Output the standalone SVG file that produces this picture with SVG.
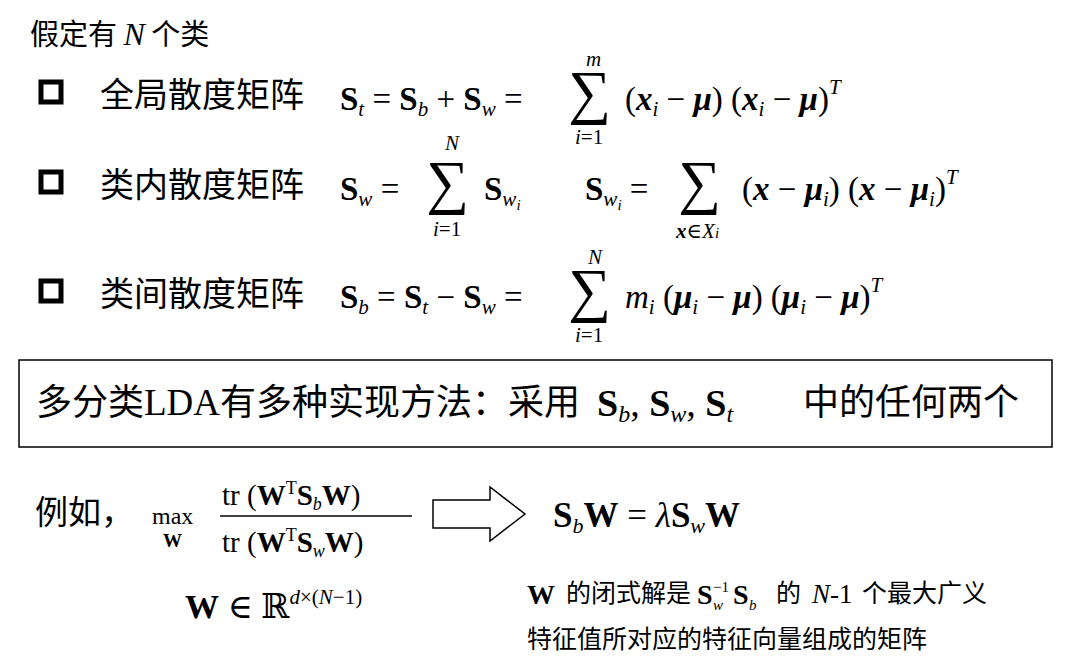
<svg xmlns="http://www.w3.org/2000/svg" width="1068" height="666" viewBox="0 0 1068 666">
<style>
.cn{font-family:"Noto Sans CJK SC",sans-serif;fill:#000}
.m{font-family:"Liberation Serif","DejaVu Serif",serif;fill:#000;font-size:33px}
.b{font-weight:bold}
.i{font-style:italic}
.s{font-size:21px}
.big{font-size:60px}
.box{fill:none;stroke:#000;stroke-width:5}
</style>
<rect width="1068" height="666" fill="#fff"/>
<text class="cn" x="30" y="45" font-size="29">假定有 <tspan class="i" font-family="Liberation Serif,serif" font-size="32">N</tspan> 个类</text>
<g id="row1">
<rect class="box" x="41" y="82" width="20" height="20"/>
<text class="cn" x="100" y="107" font-size="34">全局散度矩阵</text>
<text class="m" x="340" y="110"><tspan class="b">S</tspan><tspan class="i s" dy="6">t</tspan><tspan dy="-6"> = </tspan><tspan class="b">S</tspan><tspan class="i s" dy="6">b</tspan><tspan dy="-6"> + </tspan><tspan class="b">S</tspan><tspan class="i s" dy="6">w</tspan><tspan dy="-6">  = </tspan></text>
<text class="m big" x="568" y="112">∑</text>
<text class="m i s" x="586" y="66">m</text>
<text class="m s" x="575" y="144"><tspan class="i">i</tspan>=1</text>
<text class="m" x="625" y="110">(<tspan class="b i">x</tspan><tspan class="i s" dy="6">i</tspan><tspan dy="-6"> − </tspan><tspan class="b i">μ</tspan>) (<tspan class="b i">x</tspan><tspan class="i s" dy="6">i</tspan><tspan dy="-6"> − </tspan><tspan class="b i">μ</tspan>)<tspan class="i s" dy="-16">T</tspan></text>
</g>
<g id="row2">
<rect class="box" x="41" y="172" width="20" height="20"/>
<text class="cn" x="100" y="197" font-size="34">类内散度矩阵</text>
<text class="m" x="340" y="200"><tspan class="b">S</tspan><tspan class="i s" dy="6">w</tspan><tspan dy="-6"> = </tspan></text>
<text class="m big" x="426" y="202">∑</text>
<text class="m i s" x="445" y="150">N</text>
<text class="m s" x="433" y="236"><tspan class="i">i</tspan>=1</text>
<text class="m" x="484" y="200"><tspan class="b">S</tspan><tspan class="i s" dy="6">w<tspan style="font-size:15px" dy="4">i</tspan></tspan></text>
<text class="m" x="585" y="200"><tspan class="b">S</tspan><tspan class="i s" dy="6">w<tspan style="font-size:15px" dy="4">i</tspan></tspan><tspan dy="-10"> = </tspan></text>
<text class="m big" x="678" y="202">∑</text>
<text class="m s" x="676" y="238"><tspan class="b i">x</tspan>∈<tspan class="i">X</tspan><tspan class="i" style="font-size:15px">i</tspan></text>
<text class="m" x="742" y="200">(<tspan class="b i">x</tspan> − <tspan class="b i">μ</tspan><tspan class="i s" dy="6">i</tspan><tspan dy="-6">) (</tspan><tspan class="b i">x</tspan> − <tspan class="b i">μ</tspan><tspan class="i s" dy="6">i</tspan><tspan dy="-6">)</tspan><tspan class="i s" dy="-16">T</tspan></text>
</g>
<g id="row3">
<rect class="box" x="41" y="281" width="20" height="20"/>
<text class="cn" x="100" y="306" font-size="34">类间散度矩阵</text>
<text class="m" x="340" y="308"><tspan class="b">S</tspan><tspan class="i s" dy="6">b</tspan><tspan dy="-6"> = </tspan><tspan class="b">S</tspan><tspan class="i s" dy="6">t</tspan><tspan dy="-6"> − </tspan><tspan class="b">S</tspan><tspan class="i s" dy="6">w</tspan><tspan dy="-6">  = </tspan></text>
<text class="m big" x="568" y="310">∑</text>
<text class="m i s" x="588" y="264">N</text>
<text class="m s" x="575" y="342"><tspan class="i">i</tspan>=1</text>
<text class="m" x="625" y="308"><tspan class="i">m</tspan><tspan class="i s" dy="6">i</tspan><tspan dy="-6"> (</tspan><tspan class="b i">μ</tspan><tspan class="i s" dy="6">i</tspan><tspan dy="-6"> − </tspan><tspan class="b i">μ</tspan>) (<tspan class="b i">μ</tspan><tspan class="i s" dy="6">i</tspan><tspan dy="-6"> − </tspan><tspan class="b i">μ</tspan>)<tspan class="i s" dy="-16">T</tspan></text>
</g>
<g id="summary">
<rect x="19" y="360" width="1033" height="87" fill="none" stroke="#000" stroke-width="1.5"/>
<text class="cn" x="36" y="415" font-size="36">多分类<tspan font-family="Liberation Serif,serif" font-size="37">LDA</tspan>有多种实现方法：采用</text>
<text class="m" x="597" y="416" style="font-size:38px"><tspan class="b">S</tspan><tspan class="i" style="font-size:24px" dy="6">b</tspan><tspan dy="-6">,  </tspan><tspan class="b">S</tspan><tspan class="i" style="font-size:24px" dy="6">w</tspan><tspan dy="-6">,  </tspan><tspan class="b">S</tspan><tspan class="i" style="font-size:24px" dy="6">t</tspan></text>
<text class="cn" x="803" y="415" font-size="36">中的任何两个</text>
</g>
<g id="example">
<text class="cn" x="35" y="524" font-size="33">例如，</text>
<text class="m" x="152" y="524" style="font-size:24px">max</text>
<text class="m b" x="163" y="547" style="font-size:19px">W</text>
<text class="m" x="222" y="505" style="font-size:29px">tr (<tspan class="b">W</tspan><tspan style="font-size:18px" dy="-11">T</tspan><tspan class="b" dy="11">S</tspan><tspan class="i" style="font-size:18px" dy="5">b</tspan><tspan class="b" dy="-5">W</tspan>)</text>
<line x1="220" y1="516" x2="412" y2="516" stroke="#000" stroke-width="1.5"/>
<text class="m" x="222" y="552" style="font-size:29px">tr (<tspan class="b">W</tspan><tspan style="font-size:18px" dy="-11">T</tspan><tspan class="b" dy="11">S</tspan><tspan class="i" style="font-size:18px" dy="5">w</tspan><tspan class="b" dy="-5">W</tspan>)</text>
</g>
<g id="connectors">
<polygon points="433,500 490,500 490,487 525,514 490,541 490,528 433,528" fill="none" stroke="#000" stroke-width="1.5"/>
</g>
<g id="result">
<text class="m" x="553" y="527" style="font-size:35px"><tspan class="b">S</tspan><tspan class="i" style="font-size:22px" dy="6">b</tspan><tspan class="b" dy="-6">W</tspan> = <tspan class="i">λ</tspan><tspan class="b">S</tspan><tspan class="i" style="font-size:22px" dy="6">w</tspan><tspan class="b" dy="-6">W</tspan></text>
<text class="m" x="185" y="618" style="font-size:34px"><tspan class="b">W</tspan> ∈ ℝ<tspan style="font-size:21px" dy="-14"><tspan class="i">d</tspan>×(<tspan class="i">N</tspan>−1)</tspan></text>
<text class="m b" x="527" y="604" style="font-size:28px">W</text>
<text class="cn" x="566" y="602" font-size="25">的闭式解是</text>
<text class="m b" x="697" y="604" style="font-size:28px">S</text>
<text class="m" x="713" y="592" style="font-size:15px">−1</text>
<text class="m i" x="713" y="610" style="font-size:15px">w</text>
<text class="m b" x="733" y="604" style="font-size:28px">S</text>
<text class="m i" x="749" y="610" style="font-size:15px">b</text>
<text class="cn" x="776" y="602" font-size="25">的</text>
<text class="m" x="812" y="603" style="font-size:27px"><tspan class="i">N</tspan>-1</text>
<text class="cn" x="862" y="602" font-size="25">个最大广义</text>
<text class="cn" x="527" y="648" font-size="25">特征值所对应的特征向量组成的矩阵</text>
</g>
</svg>
